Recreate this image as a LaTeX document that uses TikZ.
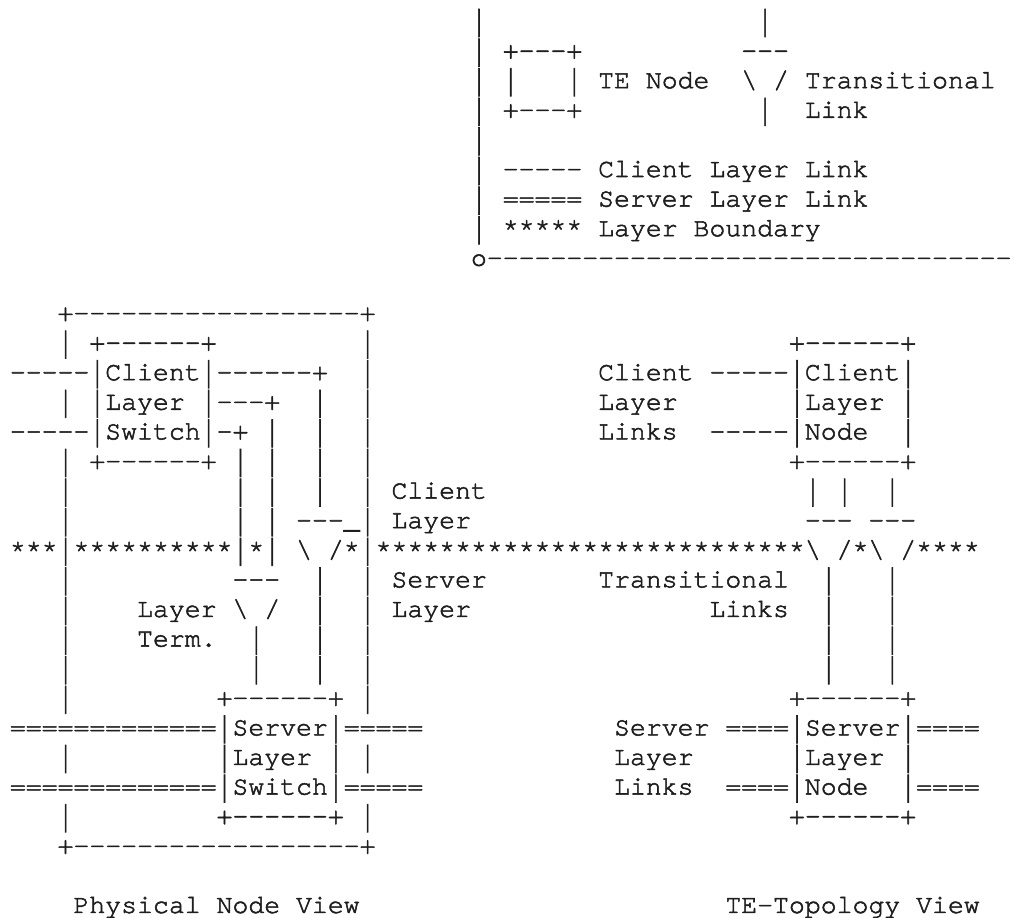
\documentclass[tikz,border=0pt]{standalone}
\usepackage{fontspec}
\usepackage{graphicx}
\setmonofont{TeX Gyre Cursor}[FakeBold=2]
\definecolor{artInk}{RGB}{30,30,30}
% a bar that fills the line height, as in the reference
\newcommand{\vbar}{\raisebox{-0.3em}{\resizebox*{0.6em}{1.05em}{\raisebox{\depth}{|}}}}

\begin{document}
\begin{tikzpicture}[
  x=7.95pt, y=-14.8pt,
  ch/.style={anchor=base west, inner sep=0pt, text=artInk,
             font=\ttfamily\fontsize{13.25pt}{14.8pt}\selectfont},
]
\useasboundingbox (-0.5975,-0.8446) rectangle (63.43,30.17);

% ================= LEGEND =================
\begin{scope}[yshift=-2pt]
  \foreach \r in {0,...,7} \node[ch] (legBar\r) at (29,\r) {\vbar};
  \node[ch] (legRule) at (29,8) {o---------------------------------};
  % TE node
  \node[ch] (legNodeTop) at (31,1) {+---+};
  \node[ch] (legNodeL)   at (31,2) {\vbar};
  \node[ch] (legNodeR)   at (35,2) {\vbar{} TE Node};
  \node[ch] (legNodeBot) at (31,3) {+---+};
  % transitional link
  \node[ch] (legTrUp)   at (47,0) {\vbar};
  \node[ch] (legTrCap)  at (46,1) {---};
  \node[ch] (legTrV)    at (46,2) {\textbackslash{} / Transitional};
  \node[ch] (legTrDown) at (47,3) {\vbar};
  \node[ch] (legTrLab)  at (50,3) {Link};
  % link kinds
  \node[ch] (legClient) at (31,5) {----- Client Layer Link};
  \node[ch] (legServer) at (31,6) {===== Server Layer Link};
  \node[ch] (legBound)  at (31,7) {***** Layer Boundary};
\end{scope}

% ================= PHYSICAL NODE VIEW =================
\node[ch] (physTop) at (3,10) {+------------------+};
\node[ch] (physBot) at (3,28) {+------------------+};
\foreach \r in {11,13,15,16,17,19,20,21,22,23,25,27} \node[ch] (physL\r) at (3,\r) {\vbar};
\foreach \r in {11,12,13,14,15,16,17,19,20,21,22,23,25,27} \node[ch] (physR\r) at (22,\r) {\vbar};

% client layer switch
\node[ch] (clsTop)  at (5,11) {+------+};
\node[ch] (clsRow1) at (0,12) {-----\vbar Client\vbar ------+};
\node[ch] (clsRow2) at (5,13) {\vbar Layer \vbar ---+};
\node[ch] (clsRow3) at (0,14) {-----\vbar Switch\vbar -+};
\node[ch] (clsBot)  at (5,15) {+------+};
\foreach \r in {13,14,15,16} \node[ch] (cl19-\r) at (19,\r) {\vbar};
\foreach \r in {14,15,16,17} \node[ch] (cl16-\r) at (16,\r) {\vbar};
\foreach \r in {15,16,17}    \node[ch] (cl14-\r) at (14,\r) {\vbar};
\node[ch] (trCap) at (18,17) {---\_};

% layer termination + transitional link down to the server switch
\node[ch] (ltCap)  at (14,19) {---};
\node[ch] (ltSym)  at (8,20)  {Layer \textbackslash{} /};
\node[ch] (ltLab)  at (8,21)  {Term.};
\foreach \r in {21,22}       \node[ch] (lt15-\r) at (15,\r) {\vbar};
\foreach \r in {19,20,21,22} \node[ch] (tr19-\r) at (19,\r) {\vbar};

% server layer switch
\node[ch] (slsTop)  at (13,23) {+------+};
\node[ch] (slsRow1) at (0,24)  {=============\vbar Server\vbar =====};
\node[ch] (slsRow2) at (13,25) {\vbar Layer \vbar};
\node[ch] (slsRow3) at (0,26)  {=============\vbar Switch\vbar =====};
\node[ch] (slsBot)  at (13,27) {+------+};

% layer names
\node[ch] (lyClient1) at (24,16) {Client};
\node[ch] (lyClient2) at (24,17) {Layer};
\node[ch] (lyServer1) at (24,19) {Server};
\node[ch] (lyServer2) at (24,20) {Layer};

% ================= LAYER BOUNDARY =================
\node[ch] (boundary) at (0,18)
  {***\vbar **********\vbar *\vbar{} \textbackslash{} /*\vbar ***************************\textbackslash{} /*\textbackslash{} /****};

% ================= TE-TOPOLOGY VIEW =================
\node[ch] (cnTop)   at (49,11) {+------+};
\node[ch] (cnRow1)  at (44,12) {-----\vbar Client\vbar};
\node[ch] (cnRow2)  at (49,13) {\vbar Layer \vbar};
\node[ch] (cnRow3)  at (44,14) {-----\vbar Node};
\node[ch] (cnRow3r) at (56,14) {\vbar};
\node[ch] (cnBot)   at (49,15) {+------+};
\node[ch] (cnLab1)  at (37,12) {Client};
\node[ch] (cnLab2)  at (37,13) {Layer};
\node[ch] (cnLab3)  at (37,14) {Links};

\node[ch] (tlUpA) at (50,16) {\vbar{} \vbar};
\node[ch] (tlUpB) at (55,16) {\vbar};
\node[ch] (tlCap) at (50,17) {--- ---};
\foreach \r in {19,20,21,22} {
  \node[ch] (tlA\r) at (51,\r) {\vbar};
  \node[ch] (tlB\r) at (55,\r) {\vbar};
}
\node[ch] (tlLab1) at (37,19) {Transitional};
\node[ch] (tlLab2) at (44,20) {Links};

\node[ch] (snTop)   at (49,23) {+------+};
\node[ch] (snRow1)  at (45,24) {====\vbar Server\vbar ====};
\node[ch] (snRow2)  at (49,25) {\vbar Layer \vbar};
\node[ch] (snRow3)  at (45,26) {====\vbar Node};
\node[ch] (snRow3r) at (56,26) {\vbar ====};
\node[ch] (snBot)   at (49,27) {+------+};
\node[ch] (snLab1)  at (38,24) {Server};
\node[ch] (snLab2)  at (38,25) {Layer};
\node[ch] (snLab3)  at (38,26) {Links};

% ================= CAPTIONS =================
\node[ch] (capPhys) at (4,30)  {Physical Node View};
\node[ch] (capTE)   at (45,30) {TE-Topology View};

\end{tikzpicture}
\end{document}
